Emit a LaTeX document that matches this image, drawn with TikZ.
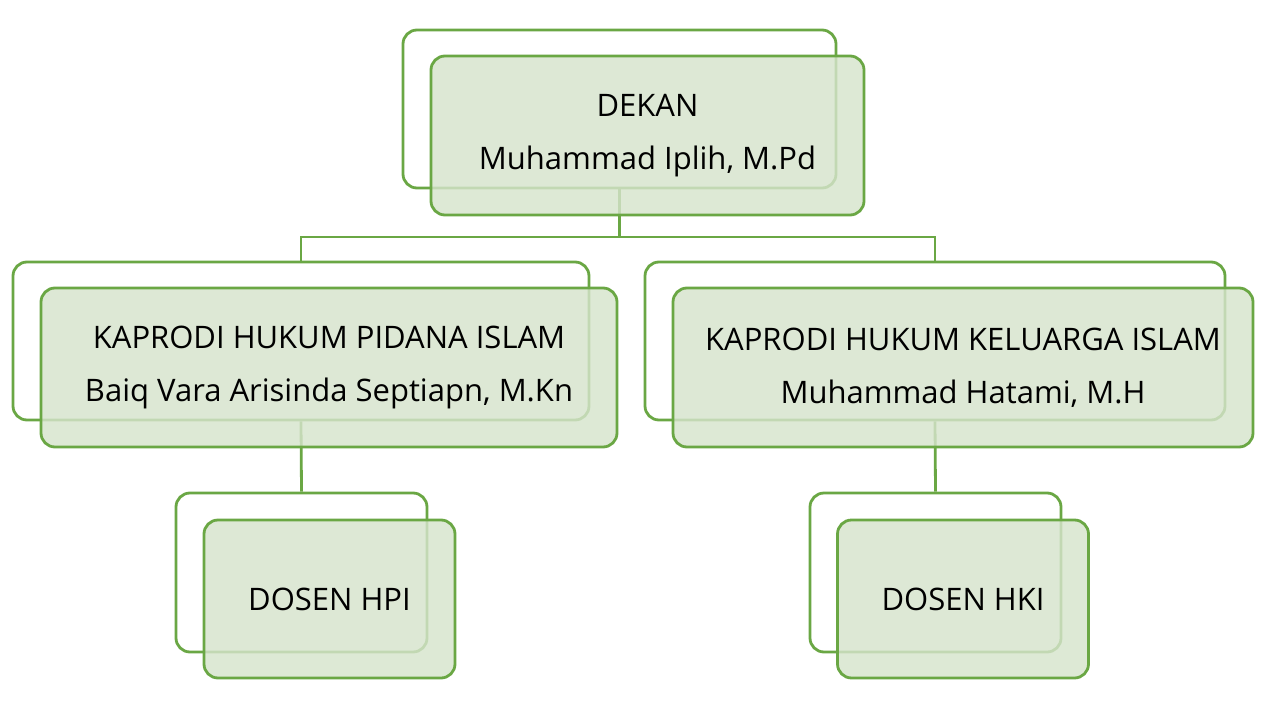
\documentclass[tikz,border=0pt]{standalone}
\usepackage{fontspec}
\setmainfont{Open Sans}
\definecolor{gline}{HTML}{6AA744}
\definecolor{gfill}{HTML}{D6E4CC}
\begin{document}
\begin{tikzpicture}[x=1pt,y=-1pt,
  backbox/.style={draw=gline, line width=2.8pt, fill=white, rounded corners=14pt, inner sep=0pt},
  frontbox/.style={draw=gline, line width=2.8pt, fill=gfill, fill opacity=0.82, text opacity=1,
     rounded corners=14pt, inner sep=0pt, align=center, font=\fontsize{31}{53}\selectfont},
  link/.style={draw=gline, line width=2.8pt}]
\useasboundingbox (0,0) rectangle (1280,720);
% back boxes
\node[backbox, minimum width=433pt, minimum height=158pt] (dekB) at (619.5,109) {};
\node[backbox, minimum width=576pt, minimum height=158pt] (kapLB) at (301,341) {};
\node[backbox, minimum width=580pt, minimum height=158pt] (kapRB) at (935,341) {};
\node[backbox, minimum width=251pt, minimum height=159pt] (dosLB) at (301.5,572.5) {};
\node[backbox, minimum width=251pt, minimum height=159pt] (dosRB) at (935.5,572.5) {};
% connectors
\coordinate (bar) at (0,237);
\draw[link] (dekB.south) -- (dekB.south |- bar) -| (kapLB.north);
\draw[link] (dekB.south |- bar) -| (kapRB.north);
\draw[link] (kapLB.south) -- (dosLB.north);
\draw[link] (kapRB.south) -- (dosRB.north);
% front boxes
\node[frontbox, minimum width=433pt, minimum height=159pt] (dekF) at (647.5,135.5) {DEKAN\\Muhammad Iplih, M.Pd};
\node[frontbox, minimum width=576pt, minimum height=159pt] (kapLF) at (329,367.5) {KAPRODI HUKUM PIDANA ISLAM\\Baiq Vara Arisinda Septiapn, M.Kn};
\node[frontbox, minimum width=580pt, minimum height=159pt] (kapRF) at (963,367.5) {KAPRODI HUKUM KELUARGA ISLAM\\Muhammad Hatami, M.H};
\node[frontbox, minimum width=251pt, minimum height=158pt] (dosLF) at (329.5,599) {DOSEN HPI};
\node[frontbox, minimum width=251pt, minimum height=158pt] (dosRF) at (963,599) {DOSEN HKI};
\end{tikzpicture}
\end{document}
